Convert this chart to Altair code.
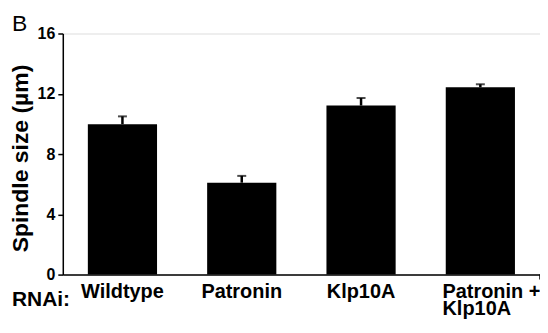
import altair as alt
import pandas as pd

categories = ["Wildtype", "Patronin", "Klp10A", "Patronin + Klp10A"]
means = [9.98, 6.10, 11.22, 12.43]
errors = [0.52, 0.45, 0.50, 0.20]
y_ticks = [0, 4, 8, 12, 16]

df = pd.DataFrame({"cond": categories, "mean": means, "err": errors})
df["top"] = df["mean"] + df["err"]

W, H = 479, 242
FONT = "Liberation Sans"
TWO = "Patronin + Klp10A"

x_enc = alt.X(
    "cond:N",
    sort=categories,
    scale=alt.Scale(paddingInner=0.42, paddingOuter=0.21),
    axis=alt.Axis(
        title=None,
        labelFont=FONT, labelFontSize=20, labelFontWeight="bold", labelColor="black",
        labelAngle=0, labelBaseline="middle", labelPadding=17, labelLineHeight=17,
        labelAlign={"condition": {"test": f"datum.value == '{TWO}'", "value": "left"}, "value": "center"},
        labelOffset={"condition": {"test": f"datum.value == '{TWO}'", "value": -38}, "value": 0},
        labelExpr=f"datum.label == '{TWO}' ? ['Patronin +', 'Klp10A'] : datum.label",
        ticks=False, domainColor="black", domainWidth=1.5,
    ),
)


def y_enc(field):
    return alt.Y(
        field,
        scale=alt.Scale(domain=[0, 16], nice=False),
        axis=alt.Axis(
            title="Spindle size (µm)", values=y_ticks,
            titleFont=FONT, titleFontSize=23, titleFontWeight="bold", titleColor="black",
            titleAngle=-90, titleBaseline="bottom", titleAlign="center", titleX=-30, titleY=125,
            labelFont=FONT, labelFontSize=16, labelFontWeight="bold", labelColor="black",
            labelPadding=3, tickSize=5, tickWidth=1.5, tickColor="black",
            domainColor="black", domainWidth=1.5, grid=False,
        ),
    )


base = alt.Chart(df)
bars = base.mark_bar(color="black").encode(x=x_enc, y=y_enc("mean:Q"))
stems = base.mark_rule(color="black", strokeWidth=2.5).encode(x=x_enc, y=y_enc("mean:Q"), y2="top:Q")
caps = base.mark_tick(color="black", thickness=2, size=9).encode(x=x_enc, y=y_enc("top:Q"))
end_tick = alt.Chart(pd.DataFrame({"a": [0]})).mark_rule(color="black", strokeWidth=1.5).encode(
    x=alt.value(W), y=alt.value(H), y2=alt.value(H + 5)
)
panel = alt.Chart(pd.DataFrame({"t": ["B"]})).mark_text(
    font=FONT, fontSize=23, fontWeight="normal", color="black",
    align="left", baseline="alphabetic"
).encode(text="t:N", x=alt.value(-51), y=alt.value(-3))
rnai = alt.Chart(pd.DataFrame({"t": ["RNAi:"]})).mark_text(
    font=FONT, fontSize=21, fontWeight=700, color="black",
    align="left", baseline="alphabetic"
).encode(text="t:N", x=alt.value(-51), y=alt.value(H + 32))

chart = alt.layer(bars, stems, caps, end_tick, panel, rnai).properties(
    width=W, height=H,
    autosize=alt.AutoSizeParams(type="none"),
    padding={"left": 55, "top": 25, "right": 0, "bottom": 50},
).configure_view(stroke=None).configure(background="white")

chart.save("out.html", embed_options={"renderer": "svg", "actions": False})
